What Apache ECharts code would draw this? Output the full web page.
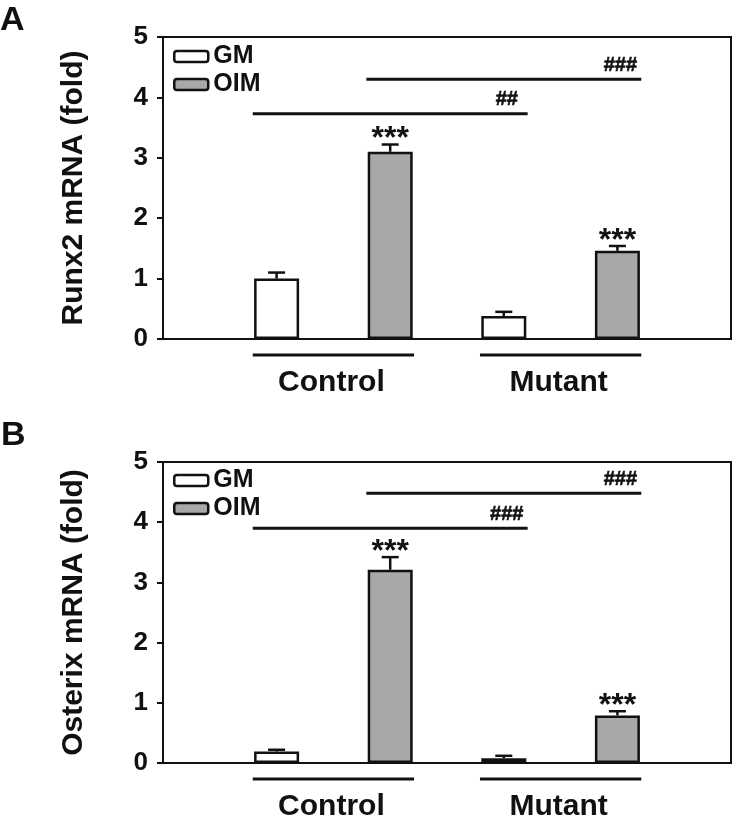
<!DOCTYPE html>
<html>
<head>
<meta charset="utf-8">
<script src="https://cdn.jsdelivr.net/npm/echarts@6/dist/echarts.min.js"></script>
<style>
html,body{margin:0;padding:0;background:#fff;}
#chart{width:740px;height:826px;}
</style>
</head>
<body>
<div id="chart"></div>
<script>
// ---- data ----
var groups = ['Control', 'Mutant'];
var conditions = ['GM', 'OIM'];
var yTicks = [0, 1, 2, 3, 4, 5];

var runx2GM = [1.00, 0.38];
var runx2GMErr = [0.10, 0.07];
var runx2OIM = [3.10, 1.46];
var runx2OIMErr = [0.12, 0.08];
var runx2Stars = ['***', '***'];
// comparisons: [bar index from, bar index to, height, label]
var runx2Sig = [[1, 3, 3.73, '##'], [2, 4, 4.30, '###']];

var osxGM = [0.19, 0.08];
var osxGMErr = [0.03, 0.04];
var osxOIM = [3.21, 0.79];
var osxOIMErr = [0.21, 0.07];
var osxStars = ['***', '***'];
var osxSig = [[1, 3, 3.90, '###'], [2, 4, 4.48, '###']];

var panelTitles = ['Runx2 mRNA (fold)', 'Osterix mRNA (fold)'];
var panelLetters = ['A', 'B'];

// ---- styles ----
var FONT = '"Liberation Sans", Arial, Helvetica, sans-serif';
var INK = '#111';
var GRAY = '#a8a8a8';
var HALF = 0.21; // half bar width in axis units

function barX(g, c) { return g * 2 + c + 1; }

var chart = echarts.init(document.getElementById('chart'), null, {renderer: 'canvas'});

var grids = [], xAxes = [], yAxes = [], series = [], legends = [];
var panels = [
  {gm: runx2GM, gmErr: runx2GMErr, oim: runx2OIM, oimErr: runx2OIMErr, stars: runx2Stars, sig: runx2Sig, top: 37, height: 302, legTop: 44},
  {gm: osxGM, gmErr: osxGMErr, oim: osxOIM, oimErr: osxOIMErr, stars: osxStars, sig: osxSig, top: 462, height: 301, legTop: 468}
];

panels.forEach(function (p, k) {
  grids.push({left: 163, right: 9, top: p.top, height: p.height, show: true, borderColor: INK, borderWidth: 2, backgroundColor: 'transparent'});
  xAxes.push({gridIndex: k, type: 'value', min: 0, max: 5,
    axisLine: {show: true, onZero: false, lineStyle: {color: INK, width: 2}},
    axisTick: {show: false}, axisLabel: {show: false}, splitLine: {show: false}});
  yAxes.push({gridIndex: k, type: 'value', min: yTicks[0], max: yTicks[yTicks.length - 1], interval: 1,
    axisLine: {show: true, lineStyle: {color: INK, width: 2}},
    axisTick: {show: true, length: 6, lineStyle: {color: INK, width: 2}},
    axisLabel: {fontSize: 26, fontWeight: 'bold', fontFamily: FONT, color: INK, margin: 15},
    splitLine: {show: false},
    name: panelTitles[k], nameLocation: 'middle', nameGap: 74,
    nameTextStyle: {fontSize: 30, fontWeight: 'bold', fontFamily: FONT, color: INK}});

  series.push({type: 'bar', name: conditions[0], xAxisIndex: k, yAxisIndex: k,
    data: p.gm.map(function (v, g) { return [barX(g, 0), v]; }),
    barWidth: 45, barGap: '-100%',
    itemStyle: {color: '#fff', borderColor: INK, borderWidth: 2.5}});
  series.push({type: 'bar', name: conditions[1], xAxisIndex: k, yAxisIndex: k,
    data: p.oim.map(function (v, g) { return [barX(g, 1), v]; }),
    barWidth: 45, barGap: '-100%',
    itemStyle: {color: GRAY, borderColor: INK, borderWidth: 2.5}});

  // error bars + stars
  [[p.gm, p.gmErr, 0, null], [p.oim, p.oimErr, 1, p.stars]].forEach(function (d) {
    var vals = d[0], errs = d[1], c = d[2], stars = d[3];
    series.push({type: 'custom', xAxisIndex: k, yAxisIndex: k, z: 5, silent: true,
      encode: {x: 0, y: 1},
      data: vals.map(function (v, g) { return [barX(g, c), v, errs[g]]; }),
      renderItem: function (params, api) {
        var x = api.value(0), v = api.value(1), e = api.value(2);
        var p0 = api.coord([x, v]), p1 = api.coord([x, v + e]);
        var ch = [
          {type: 'line', shape: {x1: p0[0], y1: p0[1], x2: p1[0], y2: p1[1]}, style: {stroke: INK, lineWidth: 2.5}},
          {type: 'line', shape: {x1: p1[0] - 8.5, y1: p1[1], x2: p1[0] + 8.5, y2: p1[1]}, style: {stroke: INK, lineWidth: 2.5}}
        ];
        if (stars) {
          ch.push({type: 'text', x: p1[0], y: p1[1] - 5,
            style: {text: stars[params.dataIndex], fill: INK, font: 'bold 32px ' + FONT, align: 'center', verticalAlign: 'middle'}});
        }
        return {type: 'group', children: ch};
      }});
  });

  // significance brackets
  series.push({type: 'custom', xAxisIndex: k, yAxisIndex: k, z: 5, silent: true,
    encode: {x: 0, y: 2},
    data: p.sig.map(function (s) { return [s[0] - HALF, s[1] + HALF, s[2], s[1]]; }),
    renderItem: function (params, api) {
      var a = api.coord([api.value(0), api.value(2)]);
      var b = api.coord([api.value(1), api.value(2)]);
      var t = api.coord([api.value(3), api.value(2)]);
      return {type: 'group', children: [
        {type: 'line', shape: {x1: a[0], y1: a[1], x2: b[0], y2: b[1]}, style: {stroke: INK, lineWidth: 3}},
        {type: 'text', x: t[0] + 3, y: a[1] - 14,
          style: {text: p.sig[params.dataIndex][3], fill: INK, stroke: INK, lineWidth: 0.6, font: 'bold 20px ' + FONT, align: 'center', verticalAlign: 'middle'}}
      ]};
    }});

  // group lines and labels below axis
  series.push({type: 'custom', xAxisIndex: k, yAxisIndex: k, z: 5, silent: true, clip: false,
    encode: {x: 0, y: 2},
    data: groups.map(function (gname, g) { return [barX(g, 0) - HALF, barX(g, 1) + HALF, 0]; }),
    renderItem: function (params, api) {
      var a = api.coord([api.value(0), 0]);
      var b = api.coord([api.value(1), 0]);
      return {type: 'group', children: [
        {type: 'line', shape: {x1: a[0], y1: a[1] + 16, x2: b[0], y2: b[1] + 16}, style: {stroke: INK, lineWidth: 3}},
        {type: 'text', x: (a[0] + b[0]) / 2 - 2, y: a[1] + 44,
          style: {text: groups[params.dataIndex], fill: INK, font: 'bold 30px ' + FONT, align: 'center', verticalAlign: 'middle'}}
      ]};
    }});

  legends.push({top: p.legTop, left: 173, padding: 0, orient: 'vertical', itemWidth: 34, itemHeight: 11, itemGap: 3,
    icon: 'roundRect', selectedMode: false,
    textStyle: {fontSize: 25, fontWeight: 'bold', fontFamily: FONT, color: INK},
    data: [
      {name: conditions[0], itemStyle: {color: '#fff', borderColor: INK, borderWidth: 2.5}},
      {name: conditions[1], itemStyle: {color: GRAY, borderColor: INK, borderWidth: 2.5}}
    ]});
});

chart.setOption({
  animation: false,
  backgroundColor: '#fff',
  grid: grids,
  xAxis: xAxes,
  yAxis: yAxes,
  legend: legends,
  series: series,
  graphic: [
    {type: 'text', left: 0, top: 4, style: {text: panelLetters[0], fill: INK, font: 'bold 34px ' + FONT}},
    {type: 'text', left: 1, top: 419, style: {text: panelLetters[1], fill: INK, font: 'bold 34px ' + FONT}}
  ]
});
</script>
</body>
</html>
